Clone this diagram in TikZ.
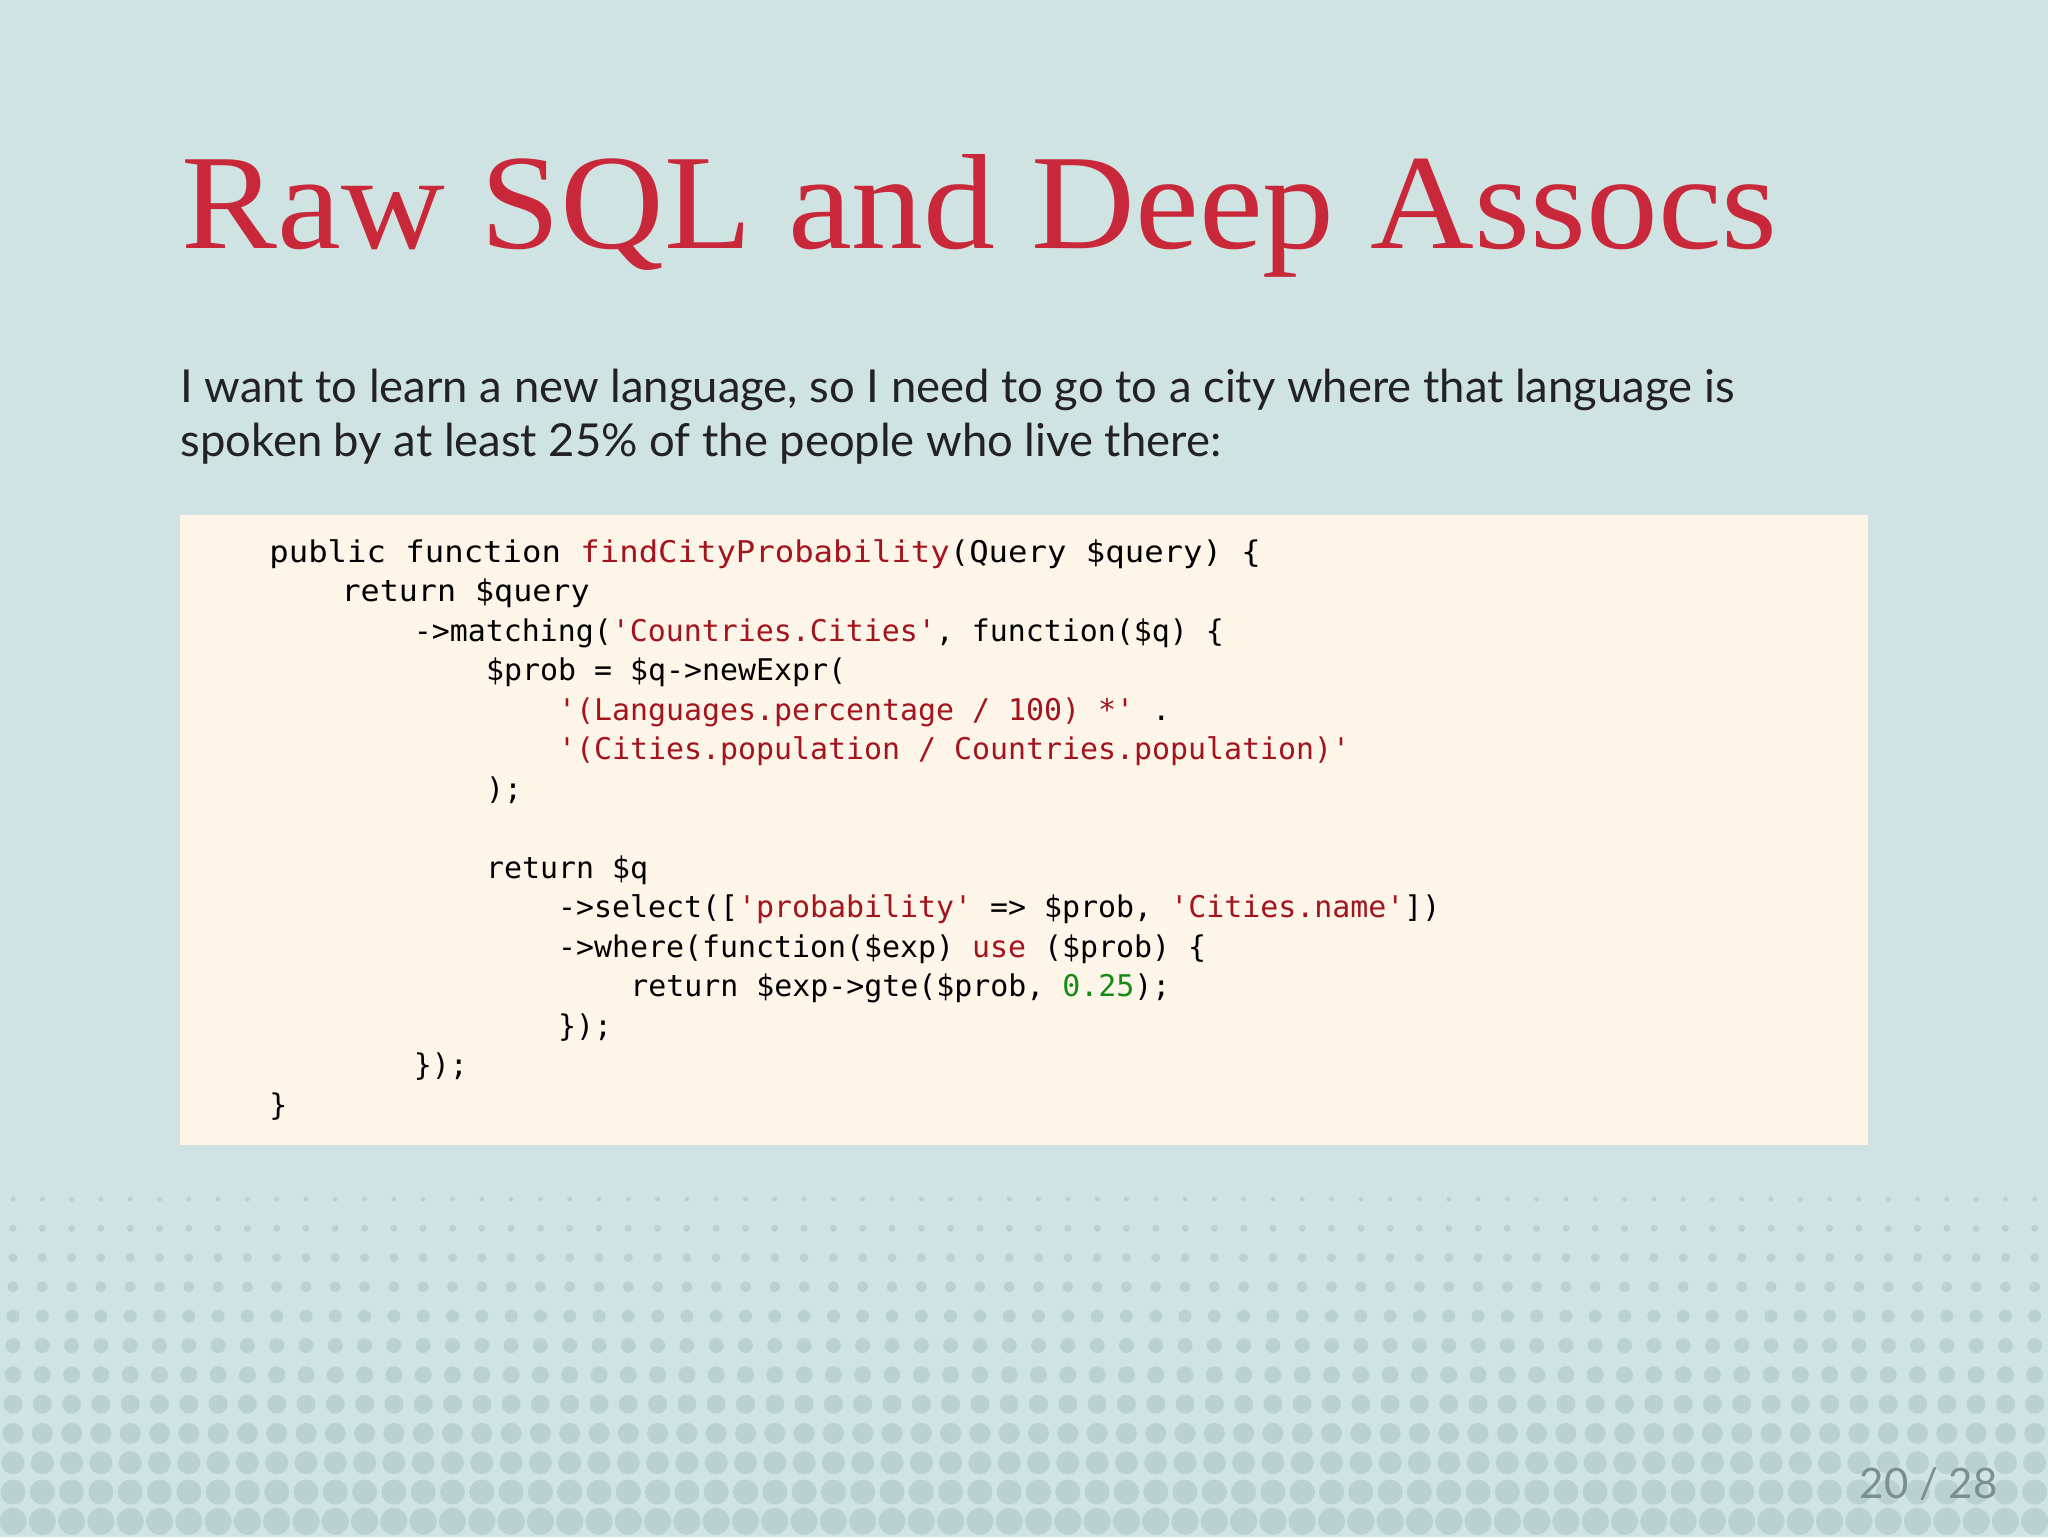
\documentclass[tikz,border=0pt]{standalone}
\usepackage{fontspec}
\setmainfont{Lato}
\newfontfamily\titlefont{Liberation Serif}
\newfontfamily\codefont{DejaVu Sans Mono}
\definecolor{bg}{HTML}{CFE3E2}
\definecolor{dotc}{HTML}{B9D1CF}
\definecolor{cream}{HTML}{FEF5E9}
\definecolor{titlered}{HTML}{C8283A}
\definecolor{strred}{HTML}{A3141E}
\definecolor{numgreen}{HTML}{168A16}
\definecolor{bodyc}{HTML}{222222}
\definecolor{pagec}{HTML}{7C8E8E}
\newcommand{\Sr}[1]{\textcolor{strred}{#1}}
\tikzset{codeline/.style={anchor=base west,inner sep=0pt,font=\codefont\fontsize{14.95}{18}\selectfont,text=black},
bodyline/.style={anchor=base west,inner sep=0pt,text=bodyc,font=\fontsize{22.7}{26}\selectfont}}
\begin{document}
\begin{tikzpicture}[x=0.5pt,y=-0.5pt]
\useasboundingbox (0,0) rectangle (2048,1537);
\fill[bg] (0,0) rectangle (2048,1537);
% dot pattern
\foreach \r in {0,...,11}{
  \pgfmathsetmacro{\yy}{1199+29.3*\r}
  \pgfmathsetmacro{\rad}{2.5+1.0*\r}
  \foreach \c in {0,...,70}{
    \fill[dotc] (13+29.3*\c,\yy) circle[radius=\rad];
  }
}
% title
\node[anchor=base west,inner sep=0pt,text=titlered] (title) at (181,248)
  {\resizebox{798pt}{47pt}{\titlefont Raw SQL and Deep Assocs}};
% body
\node[bodyline] (b1) at (180,402)
  {I want to learn a new language, so I need to go to a city where that language is};
\node[bodyline] (b2) at (180,456)
  {spoken by at least 25\% of the people who live there:};
% code box
\fill[cream] (180,515) rectangle (1868,1145);
\def\cx{269}\def\cw{18.05}\def\cy{562}\def\ch{39.5}
\node[codeline] (l0) at (\cx+0*\cw,\cy+0*\ch) {\scalebox{1.08}[1]{public function \Sr{findCityProbability}(Query \$query) \{}};
\node[codeline] (l1) at (\cx+4*\cw,\cy+1*\ch) {\scalebox{1.06}[1]{return \$query}};
\node[codeline] (l2) at (\cx+8*\cw,\cy+2*\ch) {->matching(\Sr{'Countries.Cities'}, function(\$q) \{};
\node[codeline] (l3) at (\cx+12*\cw,\cy+3*\ch) {\$prob = \$q->newExpr(};
\node[codeline] (l4) at (\cx+16*\cw,\cy+4*\ch) {\Sr{'(Languages.percentage / 100) *'} .};
\node[codeline] (l5) at (\cx+16*\cw,\cy+5*\ch) {\Sr{'(Cities.population / Countries.population)'}};
\node[codeline] (l6) at (\cx+12*\cw,\cy+6*\ch) {);};
\node[codeline] (l8) at (\cx+12*\cw,\cy+8*\ch) {return \$q};
\node[codeline] (l9) at (\cx+16*\cw,\cy+9*\ch) {->select([\Sr{'probability'} => \$prob, \Sr{'Cities.name'}])};
\node[codeline] (l10) at (\cx+16*\cw,\cy+10*\ch) {->where(function(\$exp) \Sr{use} (\$prob) \{};
\node[codeline] (l11) at (\cx+20*\cw,\cy+11*\ch) {return \$exp->gte(\$prob, \textcolor{numgreen}{0.25});};
\node[codeline] (l12) at (\cx+16*\cw,\cy+12*\ch) {\});};
\node[codeline] (l13) at (\cx+8*\cw,\cy+13*\ch) {\});};
\node[codeline] (l14) at (\cx+0*\cw,\cy+14*\ch) {\}};
% page number
\node[anchor=base east,inner sep=0pt,text=pagec,font=\fontsize{21}{24}\selectfont] (pg) at (1998,1498) {20 / 28};
\end{tikzpicture}
\end{document}
